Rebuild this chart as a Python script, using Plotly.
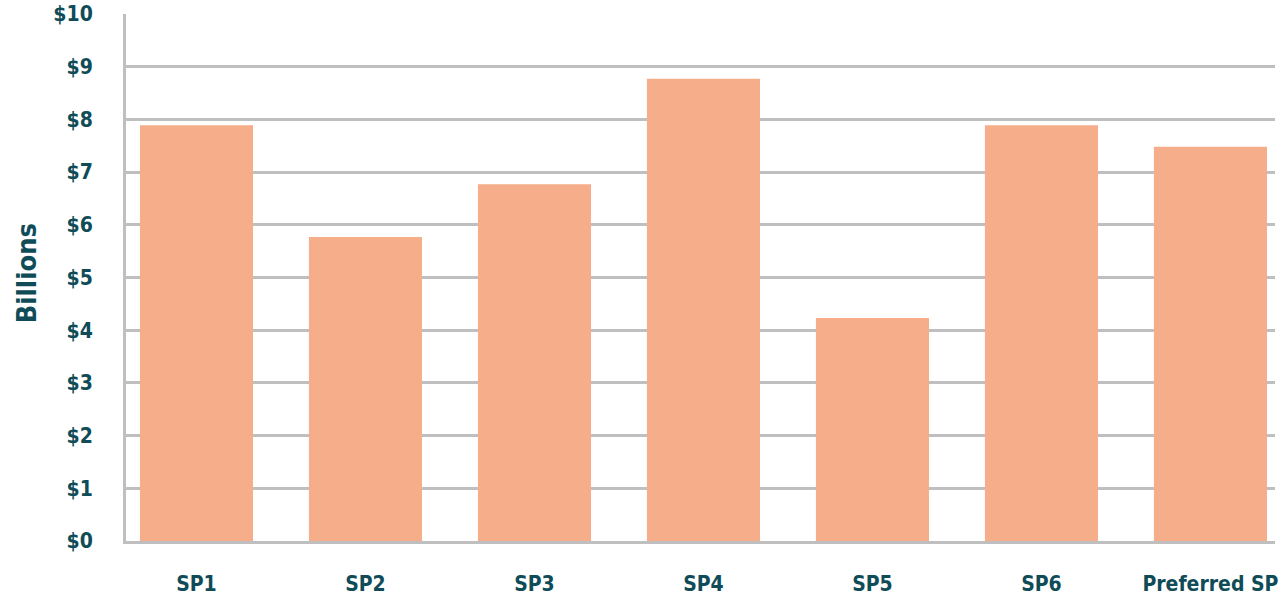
import plotly.graph_objects as go

categories = ["SP1", "SP2", "SP3", "SP4", "SP5", "SP6", "Preferred SP"]
values = [7.89, 5.77, 6.77, 8.77, 4.23, 7.89, 7.48]
y_ticks = list(range(0, 11))
y_tick_labels = ["$" + str(v) for v in y_ticks]

TEXT = "#0f4c57"
GRID = "#bfbfbf"
FONT = "DejaVu Sans Condensed, Roboto, sans-serif"

fig = go.Figure(go.Bar(
    x=list(range(len(categories))), y=values,
    marker=dict(color="#f6ad8a", line=dict(width=0)),
    width=0.669,
))

fig.update_layout(
    width=1286, height=599,
    margin=dict(l=126, r=11, t=14, b=58, autoexpand=False),
    paper_bgcolor="white", plot_bgcolor="white",
    showlegend=False,
    font=dict(family=FONT, color=TEXT, size=22, weight="bold"),
)
fig.update_xaxes(
    range=[-0.417, 6.382], automargin=False,
    tickmode="array", tickvals=list(range(len(categories))), ticktext=categories,
    showgrid=False, showline=True, linecolor=GRID, linewidth=3,
    ticks="", ticklabelstandoff=22,
    tickfont=dict(family=FONT, color=TEXT, size=21, weight="bold"),
)
fig.update_yaxes(
    range=[0, 10], automargin=False, tickmode="array", tickvals=y_ticks, ticktext=y_tick_labels,
    showgrid=True, gridcolor=GRID, gridwidth=2.5,
    showline=True, linecolor=GRID, linewidth=3, zeroline=False,
    ticks="", ticklabelstandoff=26,
    tickfont=dict(family=FONT, color=TEXT, size=21, weight="bold"),
)
fig.add_annotation(
    text="Billions", xref="paper", yref="paper",
    x=(26 - 126) / 1149, y=0.508, xanchor="center", yanchor="middle",
    textangle=-90, showarrow=False,
    font=dict(family=FONT, color=TEXT, size=27, weight="bold"),
)

fig.write_html("out.html")
